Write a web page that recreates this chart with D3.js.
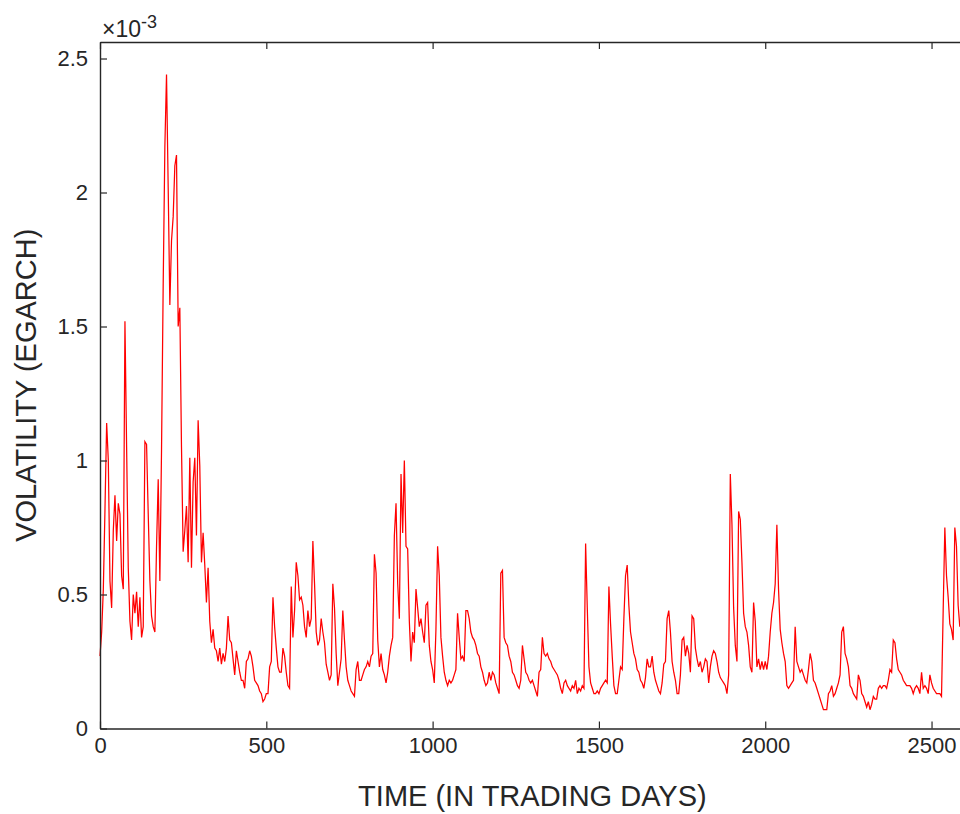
<!DOCTYPE html>
<html lang="en">
	<head>
		<meta charset="utf-8">
		<title>EGARCH volatility</title>
		<script type="text/javascript" src="https://cdn.jsdelivr.net/npm/d3@7"></script>
		<style type="text/css">
			body { margin: 0; background: #fff; }
			.axis text { font-family: "Liberation Sans", Arial, sans-serif; fill: #262626; }
			.axis path, .axis line { stroke: #262626; }
		</style>
	</head>
	<body>
		<script type="text/javascript">

			// volatility read every 5 trading days, in units of 1e-3
			var step = 5;
			var vol = [
				0.27,0.36,0.52,0.82,1.14,1.00,0.55,0.45,0.74,0.87,0.70,0.84,0.80,0.57,0.52,1.52,1.05,0.60,0.40,0.33,
				0.50,0.43,0.51,0.38,0.49,0.34,0.38,1.07,1.06,0.80,0.55,0.42,0.38,0.36,0.68,0.93,0.55,1.04,1.66,2.17,
				2.44,2.02,1.58,1.82,1.91,2.10,2.14,1.50,1.57,1.05,0.66,0.74,0.83,0.62,1.01,0.60,0.92,1.01,0.72,1.15,
				0.98,0.62,0.73,0.61,0.47,0.60,0.40,0.32,0.37,0.30,0.29,0.25,0.30,0.24,0.28,0.25,0.30,0.42,0.33,0.32,
				0.26,0.20,0.29,0.25,0.21,0.18,0.18,0.15,0.25,0.26,0.29,0.27,0.23,0.18,0.17,0.16,0.14,0.13,0.10,0.11,
				0.13,0.13,0.23,0.25,0.49,0.38,0.30,0.23,0.21,0.21,0.30,0.27,0.21,0.16,0.15,0.53,0.34,0.44,0.62,0.57,
				0.48,0.49,0.46,0.38,0.34,0.44,0.38,0.41,0.70,0.54,0.36,0.31,0.33,0.41,0.36,0.32,0.24,0.21,0.18,0.20,
				0.54,0.45,0.28,0.16,0.21,0.26,0.44,0.33,0.23,0.18,0.16,0.14,0.13,0.12,0.22,0.25,0.18,0.18,0.20,0.22,
				0.23,0.25,0.23,0.27,0.28,0.65,0.58,0.33,0.23,0.28,0.22,0.20,0.17,0.21,0.27,0.31,0.34,0.72,0.84,0.54,
				0.41,0.95,0.73,1.00,0.68,0.67,0.40,0.25,0.36,0.32,0.52,0.45,0.38,0.41,0.36,0.32,0.46,0.47,0.31,0.25,
				0.22,0.17,0.37,0.68,0.57,0.34,0.27,0.21,0.18,0.16,0.18,0.17,0.18,0.20,0.22,0.43,0.34,0.26,0.27,0.25,
				0.44,0.44,0.41,0.36,0.34,0.33,0.31,0.28,0.27,0.23,0.21,0.18,0.16,0.17,0.21,0.18,0.21,0.20,0.17,0.15,
				0.13,0.58,0.59,0.34,0.32,0.31,0.27,0.25,0.21,0.20,0.18,0.16,0.15,0.18,0.31,0.26,0.21,0.20,0.18,0.17,
				0.18,0.16,0.14,0.12,0.21,0.22,0.34,0.28,0.27,0.28,0.26,0.25,0.23,0.22,0.21,0.20,0.18,0.15,0.13,0.17,
				0.18,0.16,0.15,0.14,0.16,0.15,0.18,0.13,0.15,0.14,0.16,0.15,0.69,0.45,0.23,0.17,0.15,0.13,0.13,0.14,
				0.13,0.15,0.16,0.17,0.18,0.17,0.53,0.39,0.27,0.16,0.13,0.13,0.18,0.23,0.22,0.41,0.57,0.61,0.46,0.36,
				0.32,0.28,0.26,0.22,0.21,0.18,0.17,0.15,0.19,0.26,0.23,0.23,0.27,0.21,0.18,0.16,0.14,0.13,0.17,0.24,
				0.25,0.41,0.44,0.36,0.25,0.21,0.18,0.13,0.13,0.20,0.33,0.34,0.27,0.31,0.28,0.21,0.42,0.41,0.30,0.26,
				0.23,0.25,0.21,0.23,0.26,0.25,0.17,0.23,0.27,0.29,0.28,0.25,0.21,0.19,0.18,0.17,0.16,0.13,0.20,0.95,
				0.76,0.45,0.31,0.25,0.81,0.78,0.62,0.43,0.38,0.36,0.31,0.23,0.21,0.47,0.40,0.23,0.26,0.22,0.25,0.22,
				0.25,0.22,0.27,0.36,0.43,0.47,0.54,0.76,0.52,0.37,0.32,0.28,0.25,0.16,0.15,0.16,0.17,0.18,0.38,0.25,
				0.23,0.21,0.22,0.20,0.18,0.17,0.22,0.28,0.25,0.18,0.17,0.15,0.13,0.11,0.09,0.07,0.07,0.07,0.13,0.14,
				0.16,0.12,0.13,0.15,0.17,0.20,0.36,0.38,0.28,0.26,0.23,0.16,0.15,0.13,0.12,0.11,0.20,0.18,0.13,0.12,
				0.10,0.08,0.10,0.07,0.09,0.12,0.11,0.11,0.15,0.16,0.15,0.16,0.16,0.15,0.18,0.22,0.21,0.33,0.32,0.26,
				0.22,0.21,0.20,0.18,0.17,0.16,0.16,0.16,0.15,0.13,0.15,0.16,0.15,0.13,0.21,0.15,0.16,0.15,0.13,0.20,
				0.17,0.15,0.14,0.13,0.13,0.13,0.12,0.44,0.75,0.57,0.49,0.39,0.37,0.33,0.75,0.68,0.46,0.38,0.40
			];
			var xTicks = [0, 500, 1000, 1500, 2000, 2500];
			var yTicks = [0, 0.5, 1, 1.5, 2, 2.5];

			//Width and height
			var w = 960;
			var h = 814;
			var padLeft = 100, padTop = 42, padBottom = 728.5, axRight = 964.8;

			var xScale = d3.scaleLinear()
				.domain([0, 2600])
				.range([padLeft, axRight]);

			var yScale = d3.scaleLinear()
				.domain([0, 2.5616])
				.range([padBottom, padTop]);

			var svg = d3.select("body")
				.append("svg")
				.attr("width", w)
				.attr("height", h);

			//Line
			var line = d3.line()
				.x(function(d, i) { return xScale(i * step); })
				.y(function(d) { return yScale(d); });

			svg.append("path")
				.datum(vol)
				.attr("d", line)
				.attr("fill", "none")
				.attr("stroke", "#ff0000")
				.attr("stroke-width", 1.25)
				.attr("stroke-linejoin", "miter");

			//Axes, ticks pointing inwards like matlab
			var xAxis = d3.axisBottom(xScale).tickValues(xTicks).tickSizeInner(-7).tickSizeOuter(0).tickPadding(9).tickFormat(d3.format("d"));
			var xAxisTop = d3.axisTop(xScale).tickValues(xTicks).tickSizeInner(-7).tickSizeOuter(0).tickFormat("");
			var yAxis = d3.axisLeft(yScale).tickValues(yTicks).tickSizeInner(-7).tickSizeOuter(0).tickPadding(12).tickFormat(d3.format("~g"));

			svg.append("g")
				.attr("class", "x axis")
				.attr("transform", "translate(0," + padBottom + ")")
				.call(xAxis);

			svg.append("g")
				.attr("class", "x axis")
				.attr("transform", "translate(0," + padTop + ")")
				.call(xAxisTop);

			svg.append("g")
				.attr("class", "y axis")
				.attr("transform", "translate(" + padLeft + ",0)")
				.call(yAxis);

			svg.selectAll(".axis path").attr("stroke-width", 1.4);
			svg.selectAll(".axis line").attr("stroke-width", 1.2);
			svg.selectAll(".axis text").attr("font-size", "22px");

			//Exponent
			var expo = svg.append("text")
				.attr("x", padLeft + 2)
				.attr("y", 37)
				.attr("font-family", "Liberation Sans, Arial, sans-serif")
				.attr("font-size", "23px")
				.attr("fill", "#262626");
			expo.append("tspan").text("\u00d710");
			expo.append("tspan").attr("dy", "-9").attr("font-size", "18px").text("-3");

			//Labels
			svg.append("text")
				.attr("x", (padLeft + axRight) / 2)
				.attr("y", 806)
				.attr("text-anchor", "middle")
				.attr("font-family", "Liberation Sans, Arial, sans-serif")
				.attr("font-size", "29px")
				.attr("fill", "#262626")
				.text("TIME (IN TRADING DAYS)");

			svg.append("text")
				.attr("transform", "translate(36," + ((padTop + padBottom) / 2) + ") rotate(-90)")
				.attr("text-anchor", "middle")
				.attr("font-family", "Liberation Sans, Arial, sans-serif")
				.attr("font-size", "29px")
				.attr("fill", "#262626")
				.text("VOLATILITY (EGARCH)");

		</script>
	</body>
</html>
